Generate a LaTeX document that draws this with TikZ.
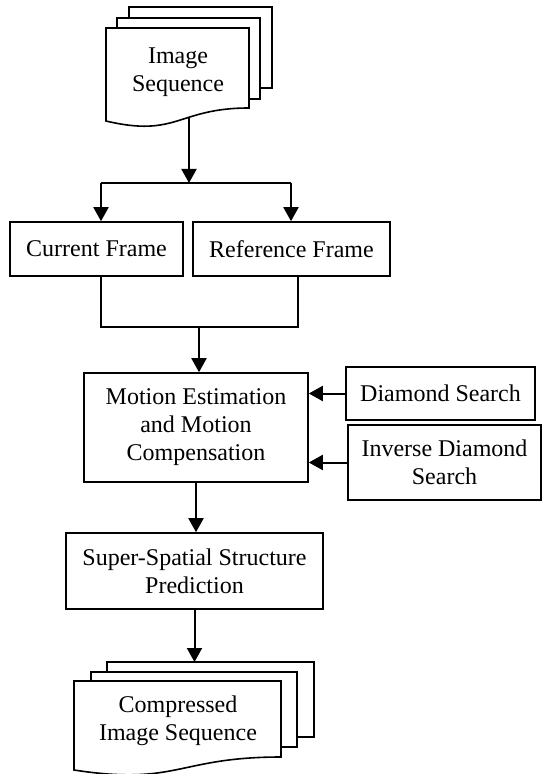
\documentclass[tikz,border=0pt]{standalone}
\usepackage{fontspec}
\setmainfont{Liberation Serif}
\usetikzlibrary{arrows.meta}
\begin{document}
\begin{tikzpicture}[x=0.5pt,y=-0.5pt,
  txt/.style={align=center,inner sep=0pt,font=\fontsize{12}{14}\selectfont},
  box/.style={txt,draw,line width=0.8pt},
  page/.style={draw,fill=white,line width=0.8pt,line join=miter},
  link/.style={line width=1pt},
  arr/.style={link,-{Triangle[length=7pt,width=7.5pt]}}]
\useasboundingbox (0,0) rectangle (546,774);

% input stack of pages
\draw[page] (129,7) rectangle (272,88);
\draw[page] (117,18) rectangle (260,99);
\draw[page] (106,28) -- (249,28) -- (249,108)
  .. controls (177.5,108) and (177.5,138) .. (106,121) -- cycle;
\node[txt] (src) at (178,72.5) {Image\\Sequence};
\coordinate (srcout) at (189,117);

% frame boxes
\node[box,minimum width=86.5pt,minimum height=27pt] (cur) at (96.5,249) {Current Frame};
\node[box,minimum width=98.5pt,minimum height=27pt] (ref) at (291.5,249) {Reference Frame};

% processing boxes
\node[box,minimum width=112pt,minimum height=54.5pt] (me) at (196,427.5)
  {Motion Estimation\\and Motion\\Compensation};
\node[box,minimum width=94.5pt,minimum height=26.5pt] (ds) at (440.5,393.5) {Diamond Search};
\node[box,minimum width=96.5pt,minimum height=37.5pt] (ids) at (444.5,462.5)
  {Inverse Diamond\\Search};
\node[box,minimum width=128.5pt,minimum height=38pt] (ssp) at (194.5,571)
  {Super-Spatial Structure\\Prediction};

% output stack of pages
\draw[page] (107,662) rectangle (314,737);
\draw[page] (91,672) rectangle (297,747);
\draw[page] (74,681) -- (281,681) -- (281,757)
  .. controls (177.5,757) and (177.5,786) .. (74,770) -- cycle;
\node[txt] (dst) at (178,721) {Compressed\\Image Sequence};
\coordinate (dstin) at (195,662);

% split towards the two frames
\coordinate (split) at (189,183);
\coordinate (splitL) at (101,183);
\coordinate (splitR) at (291,183);
\draw[arr] (srcout) -- (split);
\draw[link] (splitL) -- (splitR);
\draw[arr] (splitL) -- (splitL |- cur.north);
\draw[arr] (splitR) -- (splitR |- ref.north);

% merge of the two frames
\coordinate (mergeL) at (101,327);
\coordinate (mergeR) at (298,327);
\coordinate (merge) at (199,327);
\draw[link] (mergeL |- cur.south) -- (mergeL) -- (mergeR) -- (mergeR |- ref.south);
\draw[arr] (merge) -- (merge |- me.north);

% search methods
\draw[arr] (ds.west) -- (ds.west -| me.east);
\draw[arr] (ids.west) -- (ids.west -| me.east);

% down the chain
\draw[arr] (me.south) -- (me.south |- ssp.north);
\draw[arr] (ssp.south) -- (ssp.south |- dstin);
\end{tikzpicture}
\end{document}
